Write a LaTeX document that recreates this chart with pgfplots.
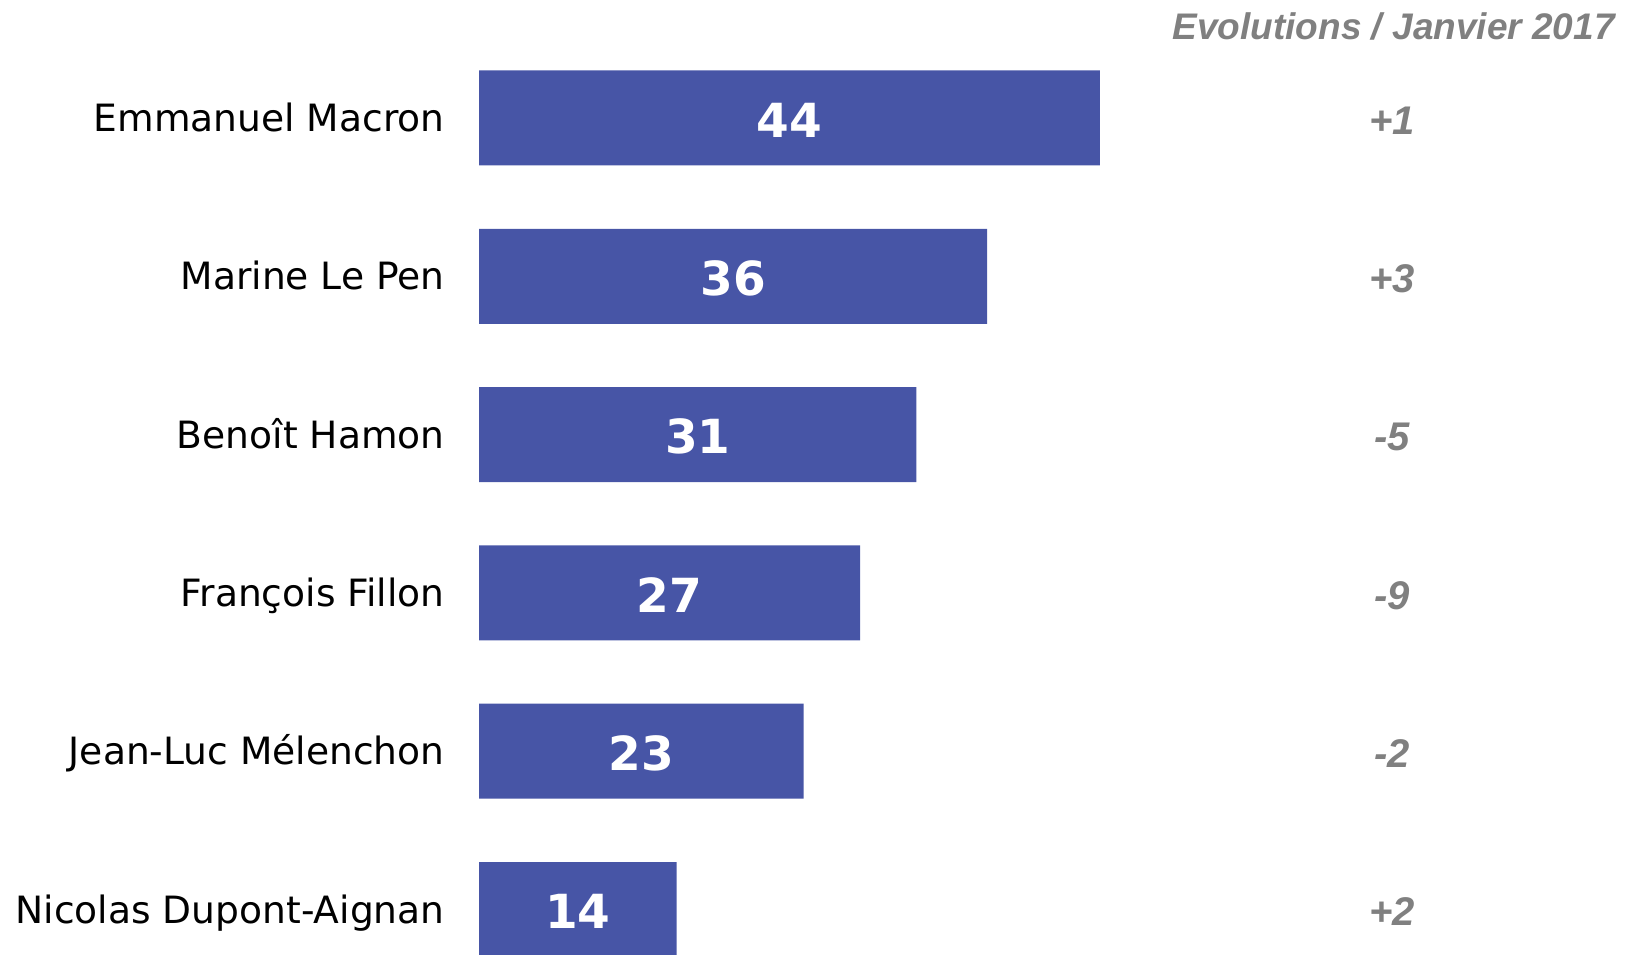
\documentclass[border=0pt]{standalone}
\usepackage{pgfplots}
\pgfplotsset{compat=1.18}
\usepackage{pgfplotstable}
\usepackage{fontspec}
\setmainfont{DejaVu Sans}
\newfontfamily\arialfont{Liberation Sans}
\definecolor{barblue}{HTML}{4755A6}
\definecolor{evogray}{HTML}{808080}
\pgfplotstableread{
i v evo
0 44 +1
1 36 +3
2 31 -5
3 27 -9
4 23 -2
5 14 +2
}\datatable
\begin{document}
\begin{tikzpicture}
\useasboundingbox (0,0) rectangle (816pt,477pt);
\begin{axis}[
  at={(239.5pt,0pt)}, anchor=south west,
  scale only axis, width=576.5pt, height=477pt,
  xmin=0, xmax=81.7, ymin=-0.745, ymax=5.281,
  y dir=reverse,
  axis lines=left, axis line style={draw=none},
  xtick=\empty, ytick={0,...,5},
  yticklabels={Emmanuel Macron, Marine Le Pen, Benoît Hamon, François Fillon, Jean-Luc Mélenchon, Nicolas Dupont-Aignan},
  tick style={draw=none}, major tick length=0pt,
  y tick label style={font=\fontsize{18.8}{21}\selectfont, anchor=base east, inner sep=0pt, xshift=-17pt, yshift=-6.86pt},
  xbar, bar width=0.6,
  clip=true,
]
\addplot[fill=barblue, draw=none] table[x=v, y=i] {\datatable};
\addplot[draw=none, only marks, mark=none,
  nodes near coords, point meta=explicit symbolic,
  every node near coord/.style={anchor=center, yshift=-1pt, text=white, font=\fontsize{23.5}{26}\bfseries\selectfont}]
  table[x expr=\thisrow{v}/2, y=i, meta=v] {\datatable};
\addplot[draw=none, only marks, mark=none,
  nodes near coords, point meta=explicit symbolic,
  every node near coord/.style={anchor=center, yshift=-1.2pt, text=evogray, font=\arialfont\fontsize{20}{22}\bfseries\itshape\selectfont}]
  table[x expr=64.7, y=i, meta=evo] {\datatable};
\end{axis}
\node[anchor=base east, inner sep=0pt, text=evogray, font=\arialfont\fontsize{18.5}{20}\bfseries\itshape\selectfont] at (807.5pt,457pt) {Evolutions / Janvier 2017};
\end{tikzpicture}
\end{document}
